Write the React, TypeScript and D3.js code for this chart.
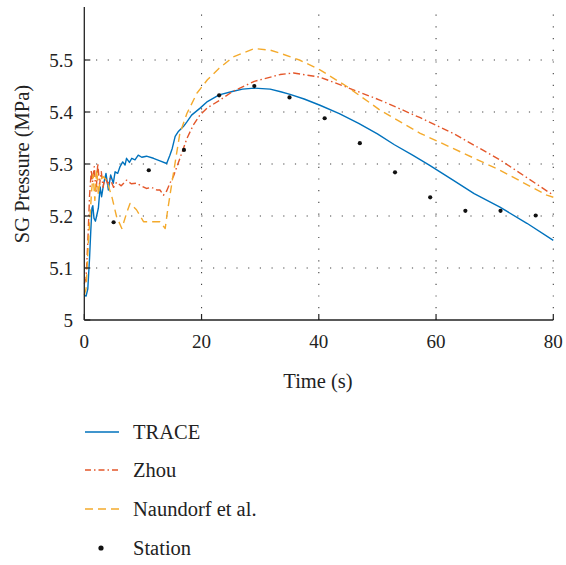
import React from "react";
import * as d3 from "d3";

const traceT = [0, 0.3, 0.6, 0.9, 1.1, 1.3, 1.45, 1.65, 1.9, 2.1, 2.4, 2.7, 2.95, 3.3, 3.7, 4.1, 4.5, 4.95, 5.25, 5.7, 6.1, 6.55, 6.95, 7.2, 7.7, 8.1, 8.65, 9.2, 9.8, 10.6, 11.8, 12.9, 14.05, 14.6, 15.0, 15.5, 16.0, 16.9, 17.5, 18.3, 19.7, 21, 23, 25.4, 27, 29, 31.7, 33.5, 35.1, 37.5, 40.2, 43.5, 46.8, 50, 52.9, 56, 58.85, 62.9, 66.5, 70.9, 75.5, 80];
const traceV = [5.048, 5.046, 5.06, 5.12, 5.17, 5.215, 5.22, 5.196, 5.19, 5.2, 5.215, 5.256, 5.237, 5.262, 5.282, 5.25, 5.279, 5.263, 5.285, 5.282, 5.295, 5.304, 5.298, 5.311, 5.303, 5.311, 5.308, 5.317, 5.313, 5.315, 5.311, 5.306, 5.301, 5.317, 5.33, 5.353, 5.362, 5.372, 5.381, 5.394, 5.407, 5.42, 5.433, 5.44, 5.444, 5.446, 5.444, 5.439, 5.434, 5.425, 5.413, 5.397, 5.378, 5.358, 5.337, 5.317, 5.298, 5.269, 5.243, 5.217, 5.186, 5.153];

const zhouT = [0, 0.3, 0.6, 0.9, 1.2, 1.4, 1.7, 2.0, 2.3, 2.6, 2.9, 3.2, 3.5, 4.0, 4.4, 5.0, 5.5, 6.3, 7.2, 8.0, 8.9, 9.7, 10.6, 11.5, 12.35, 12.9, 13.5, 14.05, 14.6, 15.2, 15.8, 16.6, 17.5, 18.6, 19.7, 21, 23, 25.4, 29, 33.4, 35.7, 40.2, 44.8, 50.4, 57.3, 62.9, 70.9, 80];
const zhouV = [5.07, 5.08, 5.15, 5.24, 5.288, 5.265, 5.295, 5.244, 5.301, 5.26, 5.285, 5.255, 5.275, 5.262, 5.272, 5.255, 5.265, 5.258, 5.269, 5.262, 5.263, 5.258, 5.253, 5.255, 5.25, 5.25, 5.24, 5.248, 5.263, 5.276, 5.295, 5.32, 5.349, 5.375, 5.394, 5.408, 5.422, 5.44, 5.459, 5.472, 5.475, 5.467, 5.4475, 5.423, 5.389, 5.359, 5.308, 5.24];

const naunT = [0, 0.3, 0.68, 0.97, 1.26, 1.5, 1.8, 2.1, 2.4, 2.7, 3.2, 3.8, 4.7, 5.5, 6.4, 7.2, 7.8, 8.9, 10.1, 11.8, 12.9, 13.8, 14.2, 15.2, 16.3, 17.5, 19.2, 21, 23, 25.4, 29, 31.7, 33.4, 36.7, 40.2, 44.8, 50.4, 57.3, 62.9, 70.9, 78.9, 80];
const naunV = [5.048, 5.06, 5.147, 5.199, 5.25, 5.28, 5.23, 5.29, 5.24, 5.269, 5.276, 5.269, 5.237, 5.199, 5.176, 5.205, 5.224, 5.212, 5.189, 5.189, 5.189, 5.176, 5.21, 5.282, 5.359, 5.397, 5.436, 5.462, 5.484, 5.506, 5.522, 5.519, 5.513, 5.5, 5.481, 5.449, 5.404, 5.359, 5.33, 5.288, 5.24, 5.236];

const stationT = [5, 11, 17, 23, 29, 35, 41, 47, 53, 59, 65, 71, 77];
const stationV = [5.188, 5.288, 5.327, 5.432, 5.45, 5.428, 5.388, 5.34, 5.284, 5.236, 5.21, 5.21, 5.201];

const xTicks = [0, 20, 40, 60, 80];
const yTicks = [5, 5.1, 5.2, 5.3, 5.4, 5.5];
const legendLabels = ["TRACE", "Zhou", "Naundorf et al.", "Station"];

const W = 566, H = 565;
const L = 84.3, R = 553.3, T = 7, B = 320;
const FONT = "'Liberation Serif', 'Times New Roman', serif";
const C_BLUE = "#0072BD", C_RED = "#E4572A", C_YEL = "#F4AA2C";

export default function App() {
  const x = d3.scaleLinear().domain([0, 80]).range([L, R]);
  const y = d3.scaleLinear().domain([5, 5.6]).range([B, B - 520 * 0.6]);
  const line = d3.line<[number, number]>().x(d => x(d[0])).y(d => y(d[1]));
  const zip = (a: number[], b: number[]) => a.map((t, i) => [t, b[i]] as [number, number]);
  const series = [
    { d: zip(traceT, traceV), color: C_BLUE, dash: "none" },
    { d: zip(zhouT, zhouV), color: C_RED, dash: "7,3,1.5,3" },
    { d: zip(naunT, naunV), color: C_YEL, dash: "8,5" },
  ];
  const legY = [432, 470, 509, 548];
  return (
    <svg width={W} height={H} style={{ position: "absolute", left: 0, top: 0, fontFamily: FONT }}>
      <rect width={W} height={H} fill="white" />
      {yTicks.filter(v => v > 5).map(v => (
        <line key={"gy" + v} x1={L} x2={R} y1={y(v)} y2={y(v)} stroke="#444" strokeWidth={1.1} strokeDasharray="1.2,10.5" />
      ))}
      {xTicks.filter(v => v > 0).map(v => (
        <line key={"gx" + v} x1={x(v)} x2={x(v)} y1={B} y2={T} stroke="#444" strokeWidth={1.1} strokeDasharray="1.2,10.5" />
      ))}
      {series.map((s, i) => (
        <path key={i} d={line(s.d) || ""} fill="none" stroke={s.color} strokeWidth={1.4} strokeDasharray={s.dash} strokeLinejoin="round" />
      ))}
      {stationT.map((t, i) => (
        <circle key={"s" + i} cx={x(t)} cy={y(stationV[i])} r={2.1} fill="#111" />
      ))}
      <line x1={L} x2={L} y1={T} y2={B} stroke="#222" strokeWidth={1.3} />
      <line x1={L} x2={R} y1={B} y2={B} stroke="#222" strokeWidth={1.3} />
      {xTicks.map(v => (
        <g key={"xt" + v}>
          <line x1={x(v)} x2={x(v)} y1={B} y2={B - 6} stroke="#222" strokeWidth={1.2} />
          <text x={x(v)} y={348} textAnchor="middle" fontSize={19} fill="#222">{v}</text>
        </g>
      ))}
      {yTicks.map(v => (
        <g key={"yt" + v}>
          <line x1={L} x2={L + 6} y1={y(v)} y2={y(v)} stroke="#222" strokeWidth={1.2} />
          <text x={73} y={y(v) + 6.5} textAnchor="end" fontSize={19} fill="#222">{v === 5 ? "5" : v.toFixed(1)}</text>
        </g>
      ))}
      <text x={318} y={388} textAnchor="middle" fontSize={20.5} fill="#222">Time (s)</text>
      <text transform="translate(29,164) rotate(-90)" textAnchor="middle" fontSize={20.5} fill="#222">SG Pressure (MPa)</text>
      {legendLabels.map((lab, i) => (
        <g key={"lg" + i}>
          {i < 3 ? (
            <line x1={85} x2={119} y1={legY[i]} y2={legY[i]} stroke={series[i].color} strokeWidth={1.4}
              strokeDasharray={i === 1 ? "6,3,1.5,3" : i === 2 ? "8,5" : "none"} />
          ) : (
            <circle cx={101} cy={legY[i]} r={2.6} fill="#111" />
          )}
          <text x={133} y={legY[i] + 7} fontSize={20.5} fill="#222">{lab}</text>
        </g>
      ))}
    </svg>
  );
}
